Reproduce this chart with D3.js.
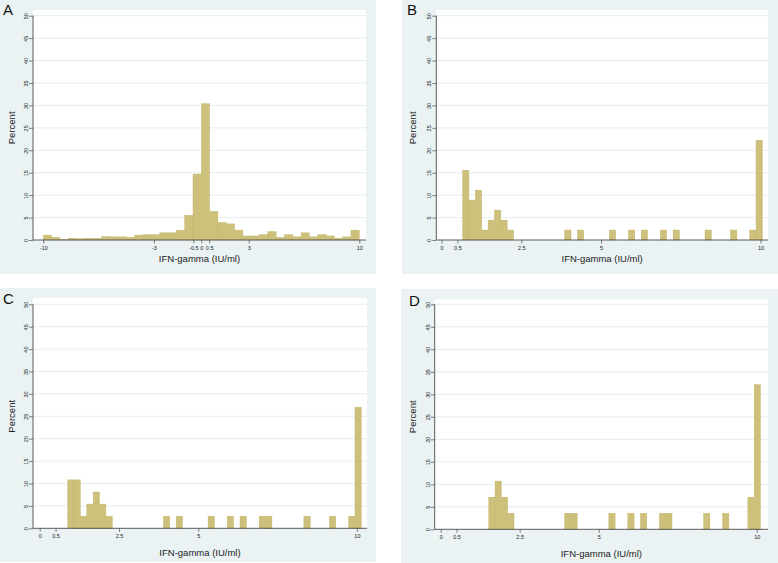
<!DOCTYPE html>
<html>
<head>
<meta charset="utf-8">
<script src="https://cdn.jsdelivr.net/npm/d3@7/dist/d3.min.js"></script>
<style>
  html, body { margin: 0; padding: 0; background: #ffffff; }
  svg { display: block; font-family: "Liberation Sans", Arial, Helvetica, sans-serif; }
</style>
</head>
<body>
<svg id="chart" width="778" height="563"></svg>
<script>
// ---------------- DATA ----------------
const panelLabels = ["A", "B", "C", "D"];
const xTitle = "IFN-gamma (IU/ml)";
const yTitle = "Percent";
const yTicks = [0, 5, 10, 15, 20, 25, 30, 35, 40, 45, 50];
const xTicksA = [-10, -3, -0.5, 0, 0.5, 3, 10];
const xTicksBCD = [0, 0.5, 2.5, 5, 10];

// Panel A: 38 bins from -10 to 10
const binStartA = -10;
const binWidthA = 20 / 38;
const percentA = [1.1, 0.6, 0.1, 0.4, 0.3, 0.4, 0.4, 0.8, 0.7, 0.7,
                  0.6, 1.1, 1.2, 1.2, 1.6, 1.6, 2.2, 5.5, 14.7, 30.4,
                  6.4, 3.9, 3.6, 2.2, 0.9, 0.9, 1.2, 1.9, 0.6, 1.2,
                  0.7, 1.6, 0.7, 1.2, 0.9, 0.4, 0.7, 2.2];

// Panel B: 47 bins
const binStartB = 0.66;
const binWidthB = 0.2;
const percentB = [15.56, 8.89, 11.11, 2.22, 4.44, 6.67, 4.44, 2.22,
                  0, 0, 0, 0, 0, 0, 0, 0,
                  2.22, 0, 2.22, 0, 0, 0, 0,
                  2.22, 0, 0, 2.22, 0, 2.22, 0, 0,
                  2.22, 0, 2.22, 0, 0, 0, 0,
                  2.22, 0, 0, 0, 2.22, 0, 0, 2.22, 22.22];

// Panel C: 46 bins
const binStartC = 0.88;
const binWidthC = 0.2013;
const percentC = [10.81, 10.81, 2.70, 5.41, 8.11, 5.41, 2.70,
                  0, 0, 0, 0, 0, 0, 0, 0,
                  2.70, 0, 2.70, 0, 0, 0, 0,
                  2.70, 0, 0, 2.70, 0, 2.70, 0, 0,
                  2.70, 2.70, 0, 0, 0, 0, 0,
                  2.70, 0, 0, 0, 2.70, 0, 0, 2.70, 27.03];

// Panel D: 43 bins
const binStartD = 1.52;
const binWidthD = 0.2;
const percentD = [7.14, 10.71, 7.14, 3.57,
                  0, 0, 0, 0, 0, 0, 0, 0,
                  3.57, 3.57, 0, 0, 0, 0, 0,
                  3.57, 0, 0, 3.57, 0, 3.57, 0, 0,
                  3.57, 3.57, 0, 0, 0, 0, 0,
                  3.57, 0, 0, 3.57, 0, 0, 0, 7.14, 32.14];

// ---------------- LAYOUT ----------------
const panels = [
  { label: panelLabels[0], bg: [0, 0, 376, 274], plot: [33, 10, 366, 240],
    xDom: [-10, 10], xRng: [43.3, 359.3], yRng: [240, 15.7],
    xTicks: xTicksA, start: binStartA, width: binWidthA, pct: percentA,
    labelPos: [3, 15], yTitleX: 14.5, xTitleY: 262 },
  { label: panelLabels[1], bg: [402, 0, 778, 274], plot: [436.3, 10, 768, 240],
    xDom: [0, 10], xRng: [441.5, 760.5], yRng: [240, 15.7],
    xTicks: xTicksBCD, start: binStartB, width: binWidthB, pct: percentB,
    labelPos: [407, 15], yTitleX: 415.5, xTitleY: 262 },
  { label: panelLabels[2], bg: [0, 288, 376, 562], plot: [33, 298, 367, 528.3],
    xDom: [0, 10], xRng: [39.7, 356.9], yRng: [528.3, 304.3],
    xTicks: xTicksBCD, start: binStartC, width: binWidthC, pct: percentC,
    labelPos: [3, 304], yTitleX: 14.5, xTitleY: 556 },
  { label: panelLabels[3], bg: [401, 289, 778, 563], plot: [434.7, 299.3, 768, 529.3],
    xDom: [0, 10], xRng: [440.7, 756.7], yRng: [529.3, 304.3],
    xTicks: xTicksBCD, start: binStartD, width: binWidthD, pct: percentD,
    labelPos: [409, 306], yTitleX: 415.5, xTitleY: 557 }
];

const svg = d3.select("#chart");
const barFill = "#cdc07a";
const barStroke = "#c3b56c";
const bgColor = "#eaf2f3";
const gridColor = "#e4edef";
const axisColor = "#4a4a4a";
const textColor = "#222";

const fmt = d => (d === 0 ? "0" : String(d));

panels.forEach(p => {
  const g = svg.append("g");
  const [bx0, by0, bx1, by1] = p.bg;
  const [px0, py0, px1, py1] = p.plot;

  g.append("rect").attr("x", bx0).attr("y", by0)
    .attr("width", bx1 - bx0).attr("height", by1 - by0).attr("fill", bgColor);
  g.append("rect").attr("x", px0).attr("y", py0)
    .attr("width", px1 - px0).attr("height", py1 - py0).attr("fill", "#ffffff");

  const x = d3.scaleLinear().domain(p.xDom).range(p.xRng);
  const y = d3.scaleLinear().domain([0, 50]).range(p.yRng);

  // gridlines
  g.append("g").selectAll("line").data(yTicks.filter(t => t > 0)).join("line")
    .attr("x1", px0).attr("x2", px1)
    .attr("y1", d => y(d)).attr("y2", d => y(d))
    .attr("stroke", gridColor).attr("stroke-width", 1);

  // bars
  const bins = p.pct.map((v, i) => ({ x0: p.start + i * p.width, x1: p.start + (i + 1) * p.width, v }))
    .filter(b => b.v > 0);
  g.append("g").selectAll("rect").data(bins).join("rect")
    .attr("x", b => x(b.x0))
    .attr("width", b => x(b.x1) - x(b.x0))
    .attr("y", b => y(b.v))
    .attr("height", b => y(0) - y(b.v))
    .attr("fill", barFill)
    .attr("stroke", barStroke)
    .attr("stroke-width", 0.4);

  // y axis
  const yAxis = d3.axisLeft(y).tickValues(yTicks).tickSize(4).tickPadding(2).tickFormat(fmt);
  const ya = g.append("g").attr("transform", `translate(${px0},0)`).call(yAxis);
  ya.select(".domain").remove();
  ya.append("line").attr("x1", 0).attr("x2", 0).attr("y1", y(50)).attr("y2", y(0))
    .attr("stroke", axisColor).attr("stroke-width", 0.9);
  ya.selectAll(".tick line").attr("stroke", axisColor).attr("stroke-width", 0.7);
  ya.selectAll(".tick text")
    .attr("fill", textColor).attr("font-size", 5.5)
    .attr("text-anchor", "middle")
    .attr("x", null).attr("dy", null)
    .attr("transform", "translate(-5,0) rotate(-90)")
    .attr("y", 0);

  // x axis
  const xAxis = d3.axisBottom(x).tickValues(p.xTicks).tickSize(3.5).tickPadding(2.5).tickFormat(fmt);
  const xa = g.append("g").attr("transform", `translate(0,${y(0)})`).call(xAxis);
  xa.select(".domain").remove();
  xa.append("line").attr("x1", px0).attr("x2", px1).attr("y1", 0).attr("y2", 0)
    .attr("stroke", axisColor).attr("stroke-width", 0.9);
  xa.selectAll(".tick line").attr("stroke", axisColor).attr("stroke-width", 0.7);
  xa.selectAll(".tick text").attr("fill", textColor).attr("font-size", 5.5);

  // titles
  g.append("text")
    .attr("x", (px0 + px1) / 2).attr("y", p.xTitleY)
    .attr("text-anchor", "middle").attr("font-size", 9.5).attr("fill", textColor)
    .text(xTitle);
  g.append("text")
    .attr("transform", `translate(${p.yTitleX},${(y(0) + y(50)) / 2}) rotate(-90)`)
    .attr("text-anchor", "middle").attr("font-size", 9.5).attr("fill", textColor)
    .text(yTitle);
  g.append("text")
    .attr("x", p.labelPos[0]).attr("y", p.labelPos[1])
    .attr("font-size", 15).attr("fill", "#111")
    .text(p.label);
});
</script>
</body>
</html>
